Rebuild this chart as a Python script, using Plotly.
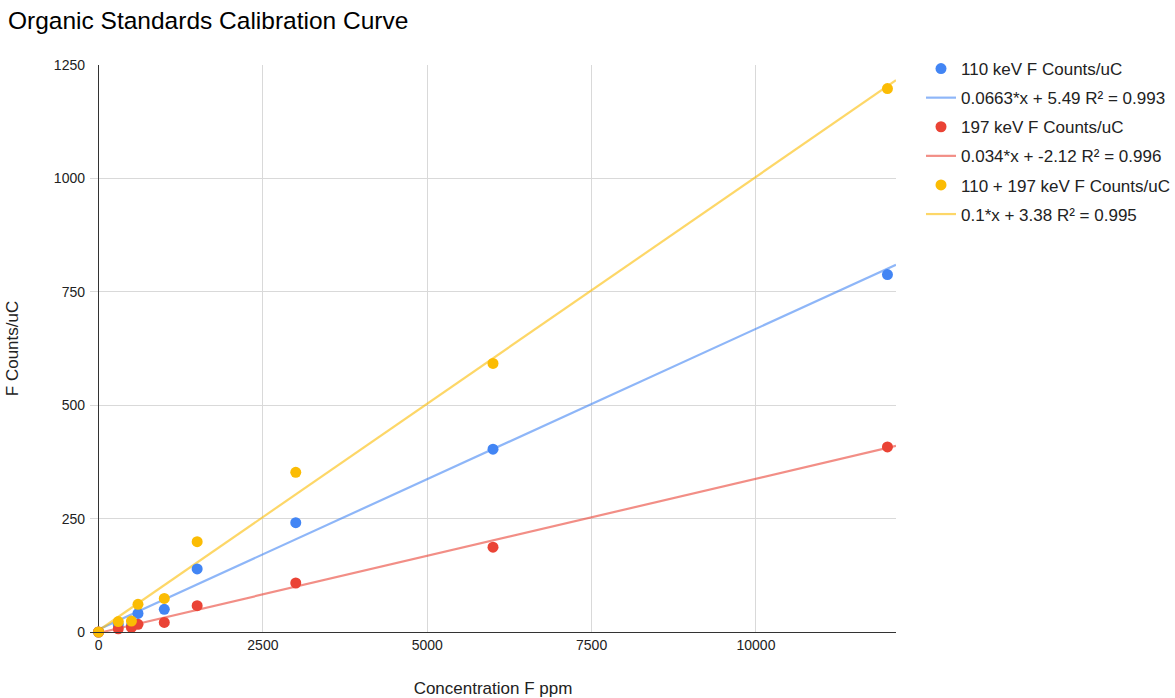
import plotly.graph_objects as go

# ---- data ----
conc_ppm = [0, 300, 500, 600, 1000, 1500, 3000, 6000, 12000]
counts_110 = [0, 16, 14, 41, 50, 139, 241, 403, 788]
counts_197 = [0, 7, 10, 17, 21, 58, 108, 187, 408]
counts_sum = [0, 23, 24, 61, 74, 199, 352, 592, 1198]

series_names = ["110 keV F Counts/uC", "197 keV F Counts/uC", "110 + 197 keV F Counts/uC"]
trend_slopes = [0.0663, 0.034, 0.1]
trend_intercepts = [5.49, -2.12, 3.38]
trend_labels = ["0.0663*x + 5.49 R² = 0.993", "0.034*x + -2.12 R² = 0.996", "0.1*x + 3.38 R² = 0.995"]

x_ticks = [0, 2500, 5000, 7500, 10000]
y_ticks = [0, 250, 500, 750, 1000, 1250]

X_MIN, X_MAX = -130, 12130
Y_MIN, Y_MAX = 0, 1250

colors = ["#4285F4", "#EA4335", "#FBBC04"]
trend_colors = ["rgba(66,133,244,0.6)", "rgba(234,67,53,0.6)", "rgba(251,188,4,0.6)"]

FONT = "Liberation Sans, Arial, sans-serif"

fig = go.Figure()
series_vals = [counts_110, counts_197, counts_sum]

# trendlines first (drawn underneath points)
for i in range(3):
    xs = [0, X_MAX]
    ys = [trend_slopes[i] * v + trend_intercepts[i] for v in xs]
    fig.add_trace(go.Scatter(
        x=xs, y=ys, mode="lines", name=trend_labels[i],
        line=dict(color=trend_colors[i], width=2.2),
        legendrank=2 * i + 2, legendgroup=f"t{i}", hoverinfo="skip",
        cliponaxis=True,
    ))
for i in range(3):
    fig.add_trace(go.Scatter(
        x=conc_ppm, y=series_vals[i], mode="markers", name=series_names[i],
        marker=dict(color=colors[i], size=11),
        legendrank=2 * i + 1, legendgroup=f"m{i}",
        cliponaxis=False,
    ))

fig.update_layout(
    width=1175, height=698,
    margin=dict(l=90, r=279, t=65, b=66, autoexpand=False),
    paper_bgcolor="white", plot_bgcolor="white",
    font=dict(family=FONT, size=14, color="#222222"),
    title=dict(text="Organic Standards Calibration Curve", font=dict(size=24.5, color="#000000", family=FONT),
               xref="container", x=8 / 1175, xanchor="left",
               yref="container", y=1 - 20 / 698, yanchor="middle"),
    legend=dict(
        xref="container", yref="container",
        x=921 / 1175, y=1 - 51 / 698, xanchor="left", yanchor="top",
        font=dict(size=17, color="#222222", family=FONT),
        tracegroupgap=4, bgcolor="rgba(0,0,0,0)", itemwidth=30,
    ),
    xaxis=dict(
        range=[X_MIN, X_MAX], tickvals=x_ticks, ticktext=[str(v) for v in x_ticks],
        showgrid=True, gridcolor="#d9d9d9", gridwidth=1,
        zeroline=True, zerolinecolor="#333333", zerolinewidth=1,
        showline=True, linecolor="#333333", linewidth=1,
        ticks="", tickfont=dict(size=14, color="#222222"),
        title=dict(text="Concentration F ppm", font=dict(size=17, color="#222222"), standoff=35),
    ),
    yaxis=dict(
        range=[Y_MIN, Y_MAX], tickvals=y_ticks, ticktext=[str(v) for v in y_ticks],
        showgrid=True, gridcolor="#d9d9d9", gridwidth=1,
        zeroline=False, showline=False,
        ticks="", tickfont=dict(size=14, color="#222222"), ticklabelstandoff=4,
        title=dict(text="F Counts/uC", font=dict(size=17, color="#222222"), standoff=30),
    ),
)

fig.write_html("out.html", config={"displayModeBar": False},
               post_script="document.body.style.margin='0px';")
